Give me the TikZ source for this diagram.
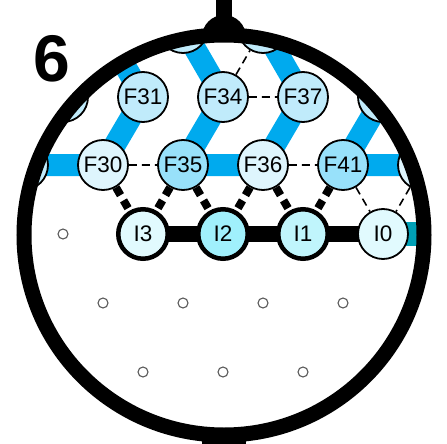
\documentclass[tikz,border=0pt]{standalone}
\usepackage{fontspec}
\setmainfont{Liberation Sans}
\pgfdeclarelayer{back}
\pgfsetlayers{back,main}
\definecolor{band}{RGB}{0,170,238}
\definecolor{readbus}{RGB}{0,160,182}
\definecolor{qpale}{RGB}{222,245,253}
\definecolor{qlight}{RGB}{192,235,251}
\definecolor{qdeep}{RGB}{152,225,250}
\definecolor{apale}{RGB}{225,250,254}
\definecolor{alight}{RGB}{192,245,252}
\definecolor{adeep}{RGB}{160,240,252}
\begin{document}
\begin{tikzpicture}[x=1pt,y=-1pt,
	qubit/.style={circle,draw,line width=1.8pt,minimum size=50pt,inner sep=0pt,font=\fontsize{22.5}{27}\selectfont},
	ancilla/.style={qubit,line width=4.5pt,minimum size=49.5pt},
	spot/.style={circle,draw=black!65,line width=1.1pt,minimum size=10pt,inner sep=0pt},
	coupler/.style={line width=1.6pt,dash pattern=on 8pt off 5pt},
	readout/.style={line width=8pt,dash pattern=on 9pt off 6pt},
	link/.style={line width=22pt,draw=band},
	bus/.style={line width=16pt}]
	\useasboundingbox (0,0) rectangle (447,444);
	\begin{scope}
		\clip (224,235) circle[radius=200pt];
		\node[qubit,fill=qlight] (p1) at (183,28) {};
		\node[qubit,fill=qlight] (p2) at (263,28) {};
		\node[qubit,fill=qlight] (p3) at (63,97) {};
		\node[qubit,fill=qlight] (F31) at (143,97) {F31};
		\node[qubit,fill=qlight] (F34) at (223,97) {F34};
		\node[qubit,fill=qlight] (F37) at (303,97) {F37};
		\node[qubit,fill=qlight] (p4) at (383,97) {};
		\node[qubit,fill=qlight] (p5) at (23,165) {};
		\node[qubit,fill=qpale] (F30) at (103,165) {F30};
		\node[qubit,fill=qdeep] (F35) at (183,165) {F35};
		\node[qubit,fill=qpale] (F36) at (263,165) {F36};
		\node[qubit,fill=qdeep] (F41) at (343,165) {F41};
		\node[qubit,fill=qpale] (p6) at (423,165) {};
		\node[ancilla,fill=apale] (I3) at (143,234) {I3};
		\node[ancilla,fill=adeep] (I2) at (223,234) {I2};
		\node[ancilla,fill=alight] (I1) at (303,234) {I1};
		\node[qubit,fill=apale] (I0) at (383,234) {I0};
		\node[spot] (d1) at (63,234) {};
		\node[spot] (d2) at (103,303) {};
		\node[spot] (d3) at (183,303) {};
		\node[spot] (d4) at (263,303) {};
		\node[spot] (d5) at (343,303) {};
		\node[spot] (d6) at (143,372) {};
		\node[spot] (d7) at (223,372) {};
		\node[spot] (d8) at (303,372) {};
		\coordinate (up31) at (103,28);
		\coordinate (busend) at (440,234);

		\draw[coupler] (F30) -- (F35) (F36) -- (F41) (F34) -- (F37) (F34) -- (p2) (F41) -- (I0) (p6) -- (I0);
		\draw[readout] (F30) -- (I3) (F35) -- (I3) (F35) -- (I2) (F36) -- (I2) (F36) -- (I1) (F41) -- (I1);
	\end{scope}

	\begin{pgfonlayer}{back}
		\begin{scope}
			\clip (224,235) circle[radius=200pt];
			\draw[link] (p5.center) -- (F30.center) -- (F31.center) -- (up31) (F35.center) -- (F36.center) (F35.center) -- (F34.center) -- (p1.center)
			(F36.center) -- (F37.center) -- (p2.center) (F41.center) -- (p6.center) (F41.center) -- (p4.center);
			\draw[bus] (I3.center) -- (I2.center) -- (I1.center) -- (I0.center);
			\draw[bus,line width=24pt,draw=readbus] (I0.center) -- (busend);
		\end{scope}
	\end{pgfonlayer}

	\draw[line width=15pt] (224,235) circle[radius=200pt];
	\fill (216,0) rectangle (232,25);
	\fill (202,37) arc[start angle=180,end angle=0,radius=22pt] -- cycle;
	\fill (202,428) rectangle (246,444);
	\node[font=\fontsize{66}{66}\selectfont\bfseries] (num) at (52,59) {6};
\end{tikzpicture}
\end{document}
